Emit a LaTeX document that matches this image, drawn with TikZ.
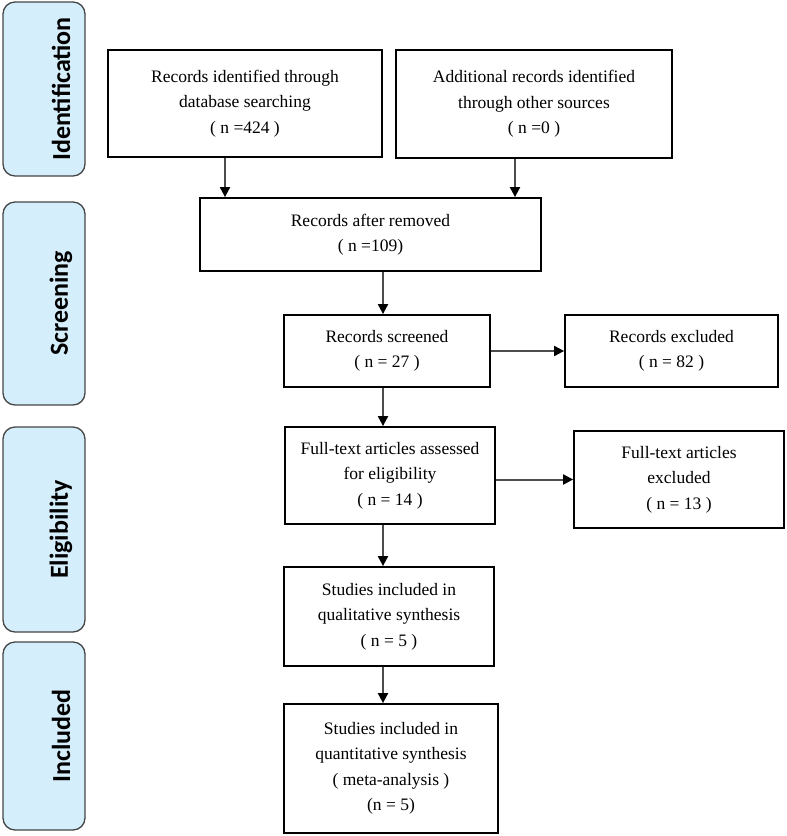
\documentclass[tikz,border=0pt]{standalone}
\usepackage{fontspec}
\setmainfont{Liberation Serif}
\newfontfamily\stagefont{Carlito}
\usepackage{tikz}
\usetikzlibrary{arrows.meta}
\definecolor{stagefill}{RGB}{212,238,251}
\definecolor{stageline}{RGB}{70,70,70}
\tikzset{stage/.style={draw=stageline, line width=1.3pt, fill=stagefill,
  rounded corners=12pt, minimum width=82pt, inner sep=0pt}}
\tikzset{stagetext/.style={rotate=90, font=\stagefont\bfseries\fontsize{26}{30}\selectfont}}
\tikzset{box/.style={draw, line width=1.8pt, align=center, inner sep=0pt,
  font=\fontsize{17.5}{25.5}\selectfont}}
\tikzset{arr/.style={draw=black!70, line width=2pt,
  -{Triangle[length=10pt,width=10pt,color=black]}}}

\begin{document}
\begin{tikzpicture}[x=1pt, y=-1pt]
\useasboundingbox (0,0) rectangle (787,836);

% phases on the left
\node[stage, minimum height=174pt] (sIdent) at (44,89) {};
\node[stagetext] (tIdent) at (61,89) {Identification};
\node[stage, minimum height=203pt] (sScreen) at (44,303.5) {};
\node[stagetext] (tScreen) at (61,303.5) {Screening};
\node[stage, minimum height=205pt] (sElig) at (44,529.5) {};
\node[stagetext] (tElig) at (61,529.5) {Eligibility};
\node[stage, minimum height=188pt] (sIncl) at (44,736) {};
\node[stagetext] (tIncl) at (61,736) {Included};

% boxes
\node[box, minimum width=274pt, minimum height=107pt] (database) at (245,103.5)
  {Records identified through\\database searching\\( n =424 )};
\node[box, minimum width=276pt, minimum height=108pt] (other) at (534,104)
  {Additional records identified\\through other sources\\( n =0 )};
\node[box, minimum width=341pt, minimum height=73pt] (removed) at (370.5,234.5)
  {Records after removed\\( n =109)};
\node[box, minimum width=206pt, minimum height=72pt] (screened) at (387,351)
  {Records screened\\( n = 27 )};
\node[box, minimum width=213pt, minimum height=72pt] (excluded) at (671.5,351)
  {Records excluded\\( n = 82 )};
\node[box, minimum width=210pt, minimum height=97pt] (fulltext) at (390,475.5)
  {Full-text articles assessed\\for eligibility\\( n = 14 )};
\node[box, minimum width=210pt, minimum height=97pt] (ftexcl) at (679,479.5)
  {Full-text articles\\excluded\\( n = 13 )};
\node[box, minimum width=210pt, minimum height=99pt] (quali) at (389,616.5)
  {Studies included in\\qualitative synthesis\\( n = 5 )};
\node[box, minimum width=214pt, minimum height=129pt] (quanti) at (391,768.5)
  {Studies included in\\quantitative synthesis\\( meta-analysis )\\(n = 5)};

% arrows
\coordinate (spine) at (383,0);
\draw[arr] ([xshift=-20]database.south) -- ([xshift=-20]database.south |- removed.north);
\draw[arr] ([xshift=-19]other.south) -- ([xshift=-19]other.south |- removed.north);
\draw[arr] (removed.south -| spine) -- (screened.north -| spine);
\draw[arr] (screened.east) -- (excluded.west);
\draw[arr] (screened.south -| spine) -- (fulltext.north -| spine);
\draw[arr] (fulltext.east |- ftexcl) -- (ftexcl.west);
\draw[arr] (fulltext.south -| spine) -- (quali.north -| spine);
\draw[arr] (quali.south -| spine) -- (quanti.north -| spine);

\end{tikzpicture}
\end{document}
